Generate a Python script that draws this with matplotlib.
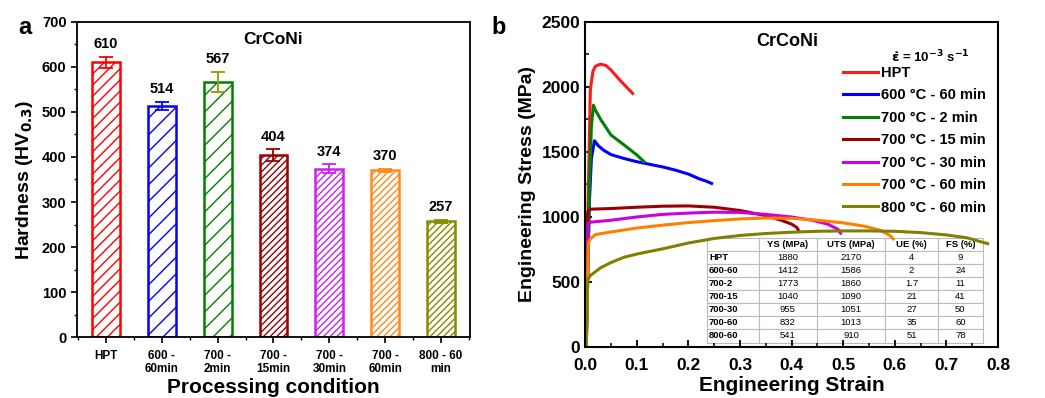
import matplotlib
matplotlib.use("Agg")
from matplotlib import pyplot as plt
from matplotlib.ticker import MultipleLocator

plt.rcParams['font.family'] = ['Liberation Sans', 'DejaVu Sans']
plt.rcParams['font.weight'] = 'bold'
plt.rcParams['mathtext.default'] = 'bf'
plt.rcParams['hatch.linewidth'] = 1.0

# panel a data
conditions = ['HPT', '600 -\n60min', '700 -\n2min', '700 -\n15min', '700 -\n30min',
              '700 -\n60min', '800 - 60\nmin']
hardness = [610, 514, 567, 404, 374, 370, 257]
hardness_err = [12, 9, 22, 13, 10, 4, 4]
bar_colors = ['#ff0000', '#0000ff', '#008000', '#990000', '#cc22ee', '#ff8c1a', '#8a8a00']
err_colors = ['#ff0000', '#0000ff', '#999900', '#990000', '#cc22ee', '#ff8c1a', '#8a8a00']
hatches = ['///', '//', '//', '/////', '/////', '/////', '/////']

# panel b data
labels_b = ['HPT', '600 °C - 60 min', '700 °C - 2 min', '700 °C - 15 min',
            '700 °C - 30 min', '700 °C - 60 min', '800 °C - 60 min']
line_colors = ['#ff1a1a', '#0000ff', '#008000', '#990000', '#cc00dd', '#ff8000', '#808000']

strain_hpt = [0.002, 0.006, 0.010, 0.015, 0.020, 0.030, 0.040, 0.050, 0.060, 0.070, 0.080, 0.092]
stress_hpt = [0, 1200, 1980, 2120, 2160, 2175, 2165, 2130, 2085, 2040, 2000, 1950]

strain_600_60 = [0.002, 0.008, 0.012, 0.018, 0.025, 0.035, 0.05, 0.075, 0.1, 0.125, 0.15,
                 0.175, 0.2, 0.22, 0.235, 0.245]
stress_600_60 = [0, 1100, 1450, 1586, 1550, 1515, 1480, 1450, 1425, 1405, 1385,
                 1360, 1330, 1295, 1275, 1258]

strain_700_2 = [0.002, 0.008, 0.012, 0.016, 0.020, 0.030, 0.040, 0.050, 0.075, 0.100, 0.114]
stress_700_2 = [0, 1200, 1700, 1860, 1820, 1750, 1690, 1630, 1555, 1477, 1425]

strain_700_15 = [0.002, 0.005, 0.01, 0.05, 0.1, 0.15, 0.2, 0.25, 0.3, 0.35, 0.38, 0.40, 0.41, 0.413]
stress_700_15 = [0, 1040, 1060, 1065, 1075, 1083, 1085, 1075, 1050, 1010, 975, 945, 920, 900]

strain_700_30 = [0.002, 0.005, 0.01, 0.05, 0.1, 0.15, 0.2, 0.25, 0.3, 0.35, 0.4, 0.44, 0.47,
                 0.49, 0.495]
stress_700_30 = [0, 950, 960, 975, 1000, 1020, 1030, 1037, 1035, 1020, 1000, 975, 945, 905, 875]

strain_700_60 = [0.002, 0.006, 0.01, 0.02, 0.05, 0.1, 0.15, 0.2, 0.25, 0.3, 0.35, 0.4, 0.45,
                 0.5, 0.54, 0.57, 0.59, 0.597]
stress_700_60 = [0, 800, 832, 865, 885, 915, 937, 957, 972, 985, 992, 990, 975, 955, 930, 900,
                 860, 832]

strain_800_60 = [0.002, 0.005, 0.01, 0.03, 0.05, 0.075, 0.1, 0.15, 0.2, 0.25, 0.3, 0.35, 0.4,
                 0.45, 0.5, 0.55, 0.6, 0.65, 0.7, 0.74, 0.78]
stress_800_60 = [0, 520, 550, 610, 650, 690, 715, 755, 800, 835, 858, 873, 883, 890, 893, 893,
                 890, 880, 862, 840, 795]

table_rows = ['HPT', '600-60', '700-2', '700-15', '700-30', '700-60', '800-60']
table_cols = ['YS (MPa)', 'UTS (MPa)', 'UE (%)', 'FS (%)']
ys = ['1880', '1412', '1773', '1040', '955', '832', '541']
uts = ['2170', '1586', '1860', '1090', '1051', '1013', '910']
ue = ['4', '2', '1.7', '21', '27', '35', '51']
fs = ['9', '24', '11', '41', '50', '60', '78']

fig = plt.figure(figsize=(10.45, 3.98), dpi=100)

# ---- panel a
ax1 = fig.add_axes([0.0737, 0.153, 0.376, 0.792])
pos = list(range(1, len(hardness) + 1))
for i in range(len(hardness)):
    ax1.bar(pos[i], hardness[i], width=0.5, facecolor='white', edgecolor=bar_colors[i],
            hatch=hatches[i], linewidth=1.8)
    ax1.errorbar(pos[i], hardness[i], yerr=hardness_err[i], color=err_colors[i],
                 capsize=5, elinewidth=1.3, capthick=1.3)
    ax1.annotate(str(hardness[i]), (pos[i], hardness[i] + hardness_err[i]),
                 xytext=(0, 4), textcoords='offset points', ha='center', va='bottom',
                 fontsize=10.5, fontweight='bold')
ax1.set_xlim(0.48, 7.52)
ax1.set_ylim(0, 700)
ax1.set_xticks(pos)
ax1.set_xticklabels(conditions, fontsize=8.5, fontweight='bold')
ax1.xaxis.set_minor_locator(MultipleLocator(0.5))
ax1.yaxis.set_major_locator(MultipleLocator(100))
ax1.yaxis.set_minor_locator(MultipleLocator(50))
ax1.tick_params(axis='y', labelsize=10.5)
ax1.tick_params(axis='x', pad=5)
ax1.tick_params(which='major', length=4, width=1.2)
ax1.tick_params(which='minor', length=2.5, width=1)
ax1.set_ylabel('Hardness (HV$_{0.3}$)', fontsize=14, fontweight='bold', labelpad=5)
ax1.set_xlabel('Processing condition', fontsize=15, fontweight='bold', labelpad=2)
ax1.text(0.5, 0.943, 'CrCoNi', transform=ax1.transAxes, ha='center', va='center',
         fontsize=12.5, fontweight='bold')
for s in ax1.spines.values():
    s.set_linewidth(1.3)

# ---- panel b
ax2 = fig.add_axes([0.560, 0.128, 0.395, 0.817])
curves = [(strain_hpt, stress_hpt), (strain_600_60, stress_600_60), (strain_700_2, stress_700_2),
          (strain_700_15, stress_700_15), (strain_700_30, stress_700_30),
          (strain_700_60, stress_700_60), (strain_800_60, stress_800_60)]
for (x, y), c, lab in zip(curves, line_colors, labels_b):
    ax2.plot(x, y, color=c, linewidth=2.2, label=lab)
ax2.set_xlim(0, 0.8)
ax2.set_ylim(0, 2500)
ax2.xaxis.set_major_locator(MultipleLocator(0.1))
ax2.xaxis.set_minor_locator(MultipleLocator(0.05))
ax2.yaxis.set_major_locator(MultipleLocator(500))
ax2.yaxis.set_minor_locator(MultipleLocator(250))
ax2.xaxis.set_major_formatter(plt.FormatStrFormatter('%.1f'))
ax2.tick_params(which='both', direction='in', labelsize=12.5)
ax2.tick_params(axis='x', pad=8)
ax2.tick_params(which='major', length=5, width=1.3)
ax2.tick_params(which='minor', length=3, width=1.1)
ax2.set_xlabel('Engineering Strain', fontsize=15, fontweight='bold', labelpad=2)
ax2.set_ylabel('Engineering Stress (MPa)', fontsize=14, fontweight='bold', labelpad=4)
ax2.text(0.49, 0.94, 'CrCoNi', transform=ax2.transAxes, ha='center', va='center',
         fontsize=13, fontweight='bold')
for s in ax2.spines.values():
    s.set_linewidth(1.5)

ax2.text(0.836, 0.892, r'$\dot{\varepsilon}$ = 10$^{-3}$ s$^{-1}$', transform=ax2.transAxes,
         ha='center', va='center', fontsize=9.5, fontweight='bold')
leg = ax2.legend(loc='upper left', bbox_to_anchor=(0.625, 0.865), frameon=False,
                 fontsize=10.5, handlelength=2.4, handletextpad=0.2, labelspacing=0.58,
                 borderpad=0, borderaxespad=0)
for t in leg.get_texts():
    t.set_fontweight('bold')

cell_text = [['', table_cols[0], table_cols[1], table_cols[2], table_cols[3]]]
for i in range(len(table_rows)):
    cell_text.append([table_rows[i], ys[i], uts[i], ue[i], fs[i]])
tab = ax2.table(cellText=cell_text, cellLoc='center',
                colWidths=[52, 58, 69, 53, 45],
                bbox=[0.296, 0.014, 0.667, 0.322])
tab.auto_set_font_size(False)
tab.set_fontsize(6.8)
for (r, c), cell in tab.get_celld().items():
    cell.set_edgecolor('#bbbbbb')
    cell.set_linewidth(0.8)
    cell.set_facecolor('white')
    txt = cell.get_text()
    if r == 0:
        txt.set_fontweight('bold')
    elif c == 0:
        txt.set_fontweight('bold')
        txt.set_ha('left')
        cell.PAD = 0.03
    else:
        txt.set_fontweight('normal')

fig.text(0.024, 0.93, 'a', fontsize=17, fontweight='bold', ha='center', va='center')
fig.text(0.477, 0.93, 'b', fontsize=17, fontweight='bold', ha='center', va='center')

fig.savefig('out.png', dpi=100)
